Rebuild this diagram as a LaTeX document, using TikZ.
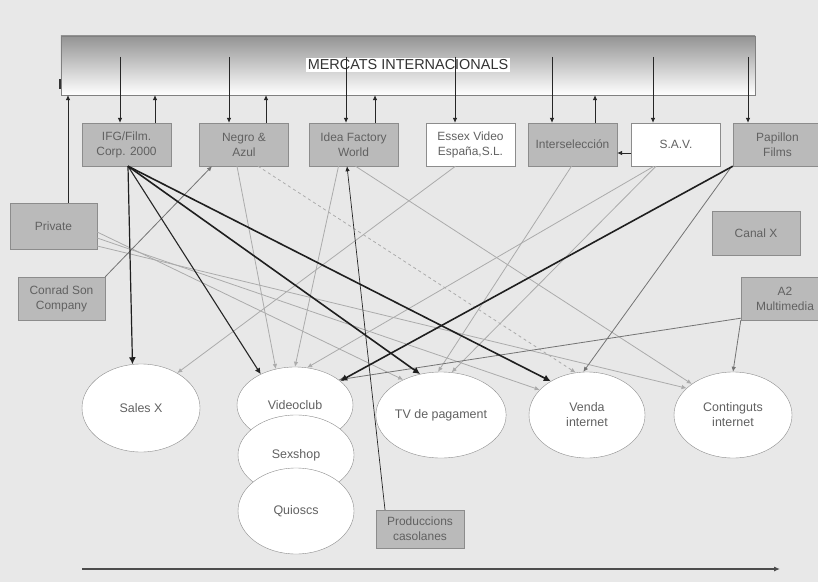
\documentclass[tikz,border=0pt]{standalone}
\usepackage{fontspec}
\setmainfont{Liberation Sans}
\usetikzlibrary{shapes.geometric,arrows.meta,calc}
\begin{document}
\begin{tikzpicture}[x=1bp,y=-1bp,
  box/.style={draw=black!45, fill=black!27, minimum width=89bp, minimum height=43bp, inner sep=1bp, align=center, font=\fontsize{12}{15}\selectfont, text=black!62},
  wbox/.style={box, fill=white},
  oval/.style={ellipse, draw=black!45, fill=white, inner sep=0pt, align=center, font=\fontsize{12.5}{15}\selectfont, text=black!62},
  tip/.style={-{Latex[length=5bp,width=4.5bp]}},
  dk/.style={tip, draw=black!85, line width=0.7bp},
  md/.style={tip, draw=black!55, line width=0.8bp},
  lt/.style={tip, draw=black!33, line width=0.8bp},
  thk/.style={-{Latex[length=7bp,width=7bp]}, draw=black!88, line width=1.6bp},
]
\useasboundingbox (0,0) rectangle (818,582);
\fill[black!9] (0,0) rectangle (818,582);

% top bar
\node[draw=black!50, top color=black!42, bottom color=white, minimum width=694bp, minimum height=59bp, inner sep=0pt] (bar) at (408,65.5) {};
\node[fill=white, inner sep=1.5bp, font=\fontsize{14.5}{17}\selectfont, text=black!80] (title) at (408,65) {MERCATS INTERNACIONALS};
\draw[black!80, line width=1.5bp] ([xshift=-1bp,yshift=-14bp]bar.west) -- ([xshift=-1bp,yshift=-24bp]bar.west);

% boxes
\node[box]  (ifg)  at (126.5,144.5) {IFG/Film.\\Corp. 2000};
\node[box]  (ng)   at (244,144.5)   {Negro \&\\Azul};
\node[box]  (idea) at (353.5,144.5) {Idea Factory\\World};
\node[wbox] (esx)  at (470.5,144.5) {Essex Video\\España,S.L.};
\node[box]  (isel) at (572.5,144.5) {Interselección};
\node[wbox] (sav)  at (676,144.5)   {S.A.V.};
\node[box]  (pap)  at (777.5,144.5) {Papillon\\Films};
\node[box, minimum width=87bp, minimum height=46bp] (prv) at (53.5,226) {Private};
\node[box, minimum width=87bp] (cs)  at (61.5,298.5) {Conrad Son\\Company};
\node[box, minimum width=88bp, minimum height=44bp] (cx) at (756,233) {Canal X};
\node[box, minimum width=88bp] (a2)  at (785,298.5) {A2\\Multimedia};
\node[box, minimum width=88bp, minimum height=38bp] (pc) at (420,529) {Produccions\\casolanes};

% ellipses
\node[oval, minimum width=118bp, minimum height=88bp] (sx) at (141,408) {Sales X};
\node[oval, minimum width=116bp, minimum height=76bp] (vc) at (295,405) {Videoclub};
\node[oval, minimum width=116bp, minimum height=80bp] (ss) at (296,455) {Sexshop};
\node[oval, minimum width=116bp, minimum height=86bp] (qu) at (296,511) {Quioscs};
\node[oval, minimum width=118bp, minimum height=86bp] (tv) at (441,415) {TV de pagament};
\node[oval, minimum width=116bp, minimum height=86bp] (ve) at (587,415) {Venda\\internet};
\node[oval, minimum width=118bp, minimum height=86bp] (ci) at (733,415) {Continguts\\internet};

% bar <-> boxes
\foreach \x/\n in {120/ifg,229/ng,346/idea,455/esx,552/isel,653/sav,748/pap}{
  \coordinate (d\n) at (\x,57);
  \draw[dk] (d\n) -- (d\n |- \n.north);
}
\foreach \x/\n in {155/ifg,266/ng,375/idea,595/isel,68/prv}{
  \coordinate (u\n) at (\x,0);
  \draw[dk] (u\n |- \n.north) -- (u\n |- bar.south);
}
\draw[dk] ([yshift=-8.5bp]sav.west) -- ([yshift=-8.5bp]isel.east);

% light connectors
\draw[lt] ([xshift=-15bp]esx.south) -- (sx.44);
\draw[lt] ([xshift=-1bp]isel.south) -- (tv.94);
\draw[lt] ([xshift=-20bp]sav.south) -- (tv.76);
\draw[lt] ([xshift=-22bp]sav.south) -- (vc.72);
\draw[lt] ([xshift=-7bp]ng.south) -- (vc.118);
\draw[lt, dashed] ([xshift=14bp]ng.south) -- (ve.105);
\draw[lt] ([xshift=-15bp]idea.south) -- (vc.90);
\draw[lt] ([xshift=2bp]idea.south) -- (ci.143);
\draw[lt] ([yshift=-6bp]prv.east) -- (tv.137);
\draw[lt] ([yshift=-12bp]prv.east) -- (ve.152);
\draw[lt] ([yshift=-20bp]prv.east) -- (ci.150);

% medium connectors
\draw[md] (cs.north east) -- ([xshift=-32bp]ng.south);
\draw[md] ([xshift=-1bp]pap.south west) -- (ve.95);
\draw[md] (a2.south west) -- (ci.90);
\draw[md] ([yshift=2bp]a2.south west) -- (vc.30);
\draw[dk] ([xshift=-35bp]pc.north) -- ([xshift=-6.5bp]idea.south);

% dark / thick connectors
\draw[thk, line width=1.2bp] ([xshift=1.5bp]ifg.south) -- (sx.101);
\draw[dk, line width=1.1bp, -{Latex[length=6bp,width=6bp]}] ([xshift=1.5bp]ifg.south) -- (vc.138);
\draw[thk] ([xshift=1.5bp]ifg.south) -- (tv.117);
\draw[thk] ([xshift=1.5bp]ifg.south) -- (ve.137);
\draw[thk] (pap.south west) -- (vc.28);

% bottom axis
\coordinate (ax0) at (82,569);
\coordinate (ax1) at (780,569);
\draw[-{Latex[length=6bp,width=5bp]}, draw=black!70, line width=1.1bp] (ax0) -- (ax1);
\end{tikzpicture}
\end{document}
